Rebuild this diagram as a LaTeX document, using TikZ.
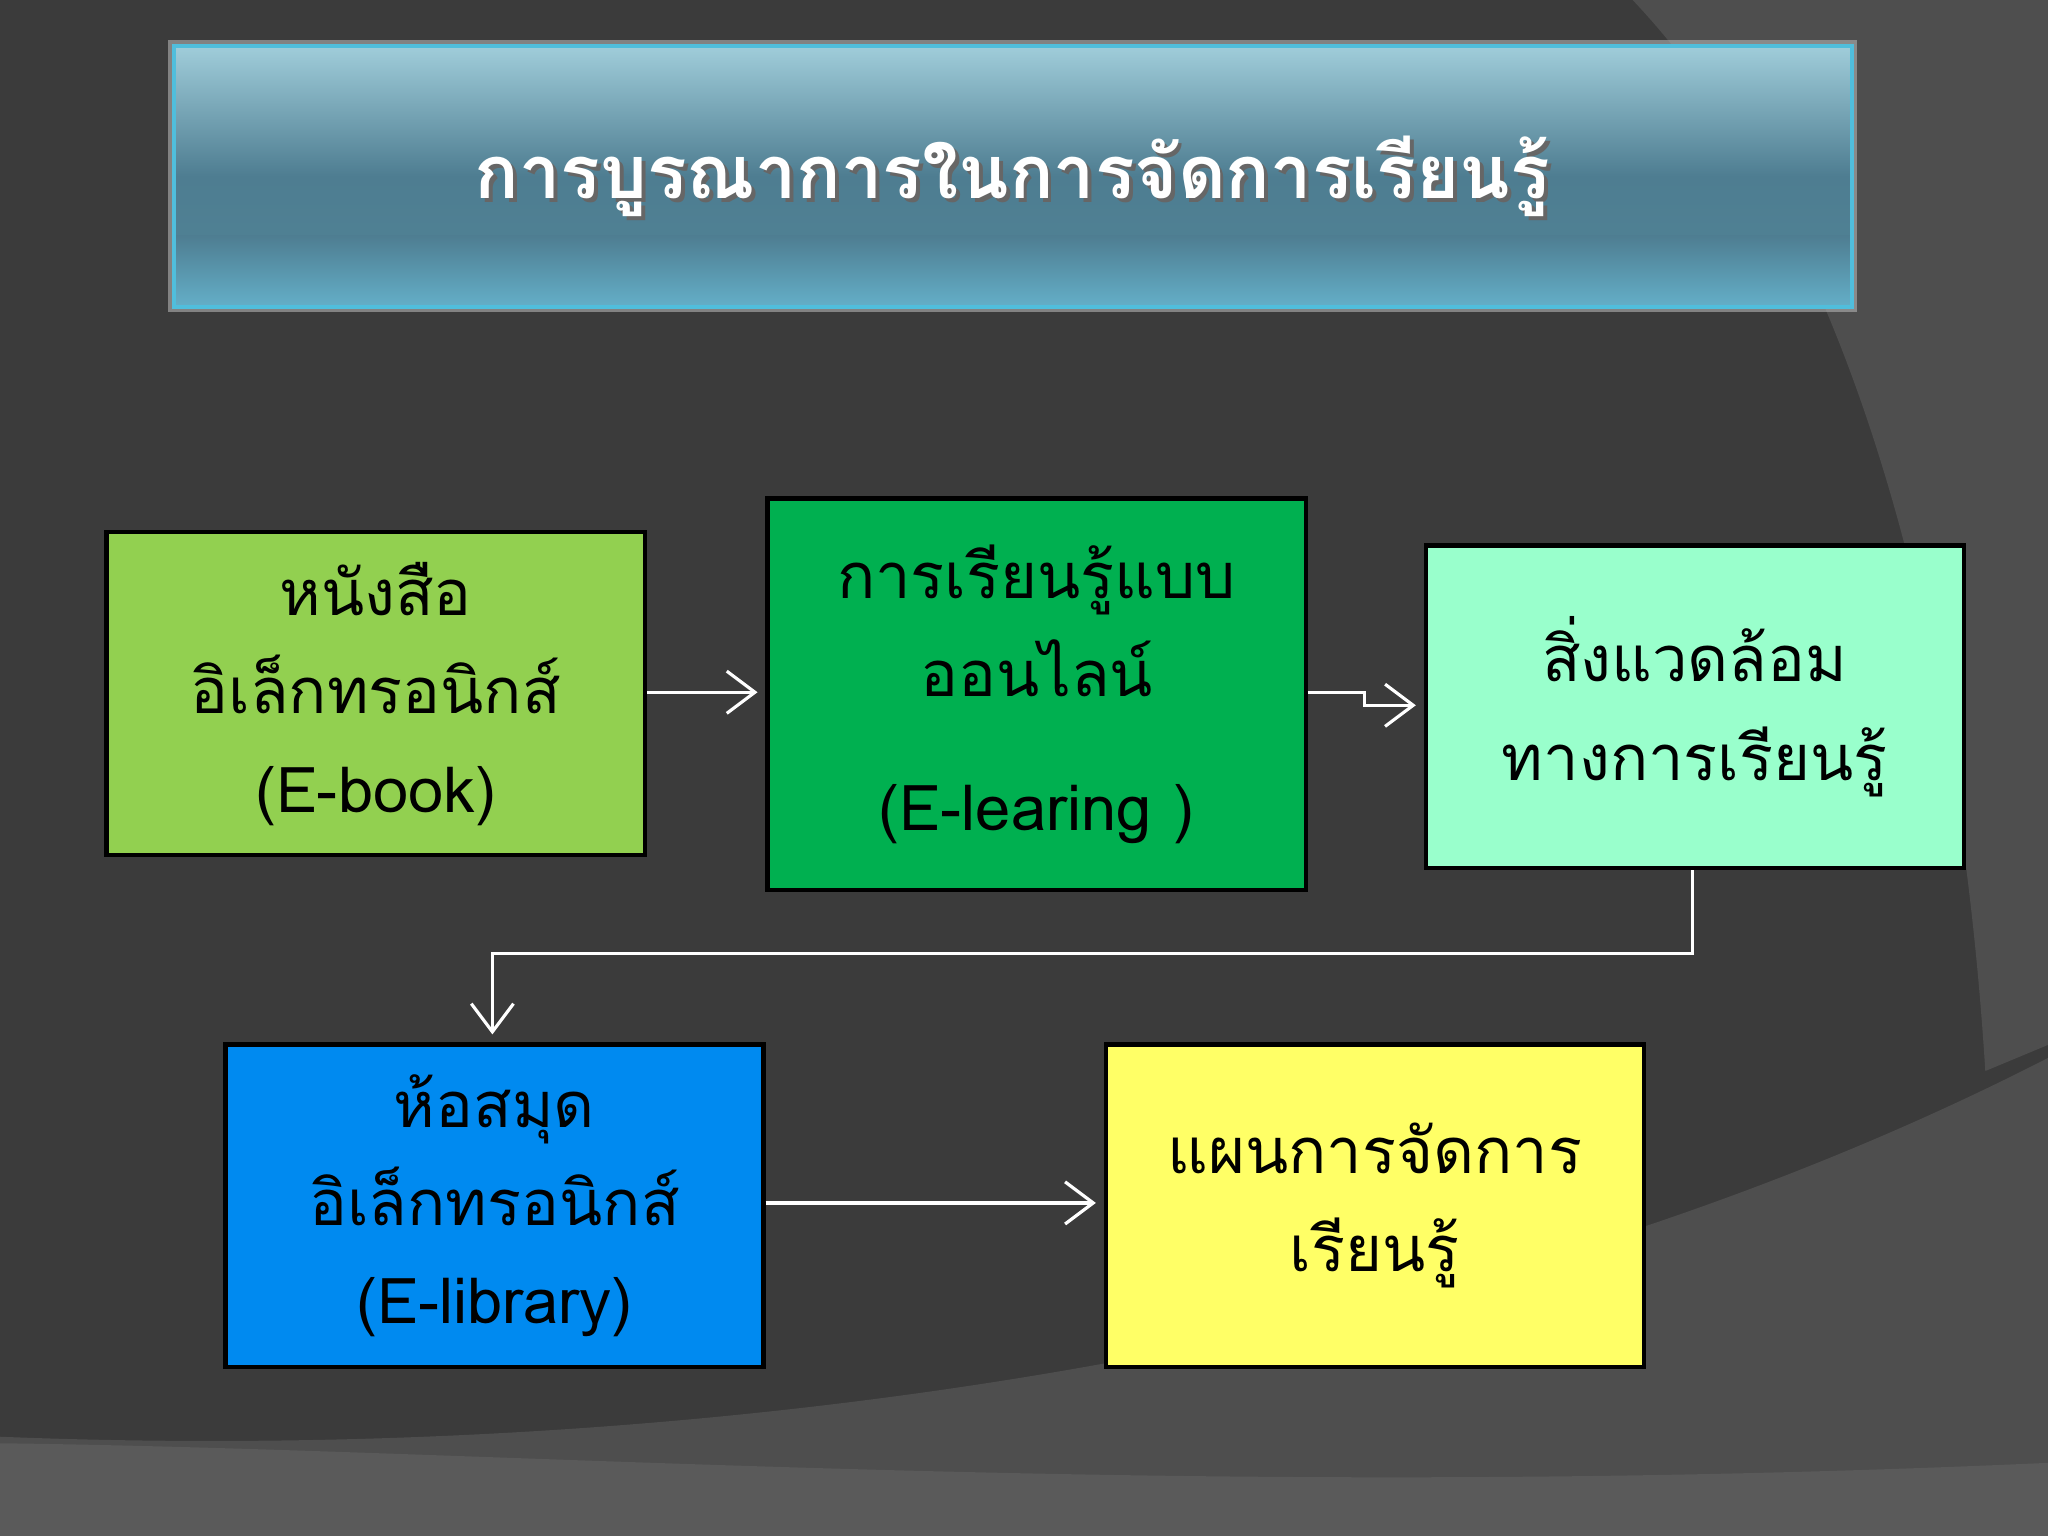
\documentclass[tikz,border=0pt]{standalone}
\usepackage{fontspec}
\newfontfamily\thaifont[Script=Thai]{Loma}
\usetikzlibrary{arrows.meta}
\definecolor{bg}{HTML}{3B3B3B}
\definecolor{bgl}{HTML}{4E4E4E}
\definecolor{bgb}{HTML}{5A5A5A}
\begin{document}
\begin{tikzpicture}[x=0.01306cm,y=-0.01306cm,
  box/.style={draw=black,line width=1.2pt,anchor=north west,inner sep=0pt,align=center,
    font=\thaifont\fontsize{18}{28}\selectfont,text=black},
  conn/.style={draw=white,line width=0.9pt,-{Straight Barb[length=8pt,width=12pt]}}]
\useasboundingbox (0,0) rectangle (1568,1176);
\fill[bg] (0,0) rectangle (1568,1176);
\fill[bgl] (1250,0) .. controls (1420,180) and (1500,500) .. (1520,820) -- (1568,800) -- (1568,0) -- cycle;
\fill[bgl] (0,1176) -- (0,1100) .. controls (500,1120) and (1100,1050) .. (1568,810) -- (1568,1176) -- cycle;
\fill[bgb] (0,1176) -- (0,1105) .. controls (400,1110) and (900,1150) .. (1568,1120) -- (1568,1176) -- cycle;
% title
\fill[gray!60,opacity=0.6] (129,31) rectangle (1422,239);
\shade[top color={rgb,255:red,160;green,205;blue,218},bottom color={rgb,255:red,80;green,132;blue,150},middle color={rgb,255:red,78;green,125;blue,145}] (133,35) rectangle (1418,235);
\shade[top color={rgb,255:red,78;green,125;blue,145},bottom color={rgb,255:red,100;green,175;blue,200}] (133,180) rectangle (1418,235);
\draw[color={rgb,255:red,80;green,190;blue,220},line width=1.2pt] (133,35) rectangle (1418,235);
\node[text=black!60,font=\thaifont\bfseries\fontsize{21}{24}\selectfont] at (778,138) {การบูรณาการในการจัดการเรียนรู้};
\node (title) [text=white,font=\thaifont\bfseries\fontsize{21}{24}\selectfont] at (775,135) {การบูรณาการในการจัดการเรียนรู้};
% boxes
\node (b1) [box,fill={rgb,255:red,146;green,208;blue,80},minimum width=412*0.01306cm,minimum height=247*0.01306cm] at (80,406) {หนังสือ\\อิเล็กทรอนิกส์\\(E-book)};
\node (b2) [box,fill={rgb,255:red,0;green,176;blue,80},minimum width=412*0.01306cm,minimum height=300*0.01306cm] at (586,380) {การเรียนรู้แบบ\\ออนไลน์\\[10pt](E-learing )};
\node (b3) [box,fill={rgb,255:red,153;green,255;blue,204},minimum width=412*0.01306cm,minimum height=247*0.01306cm] at (1090,416) {สิ่งแวดล้อม\\ทางการเรียนรู้};
\node (b4) [box,fill={rgb,255:red,0;green,138;blue,240},minimum width=412*0.01306cm,minimum height=247*0.01306cm] at (171,798) {ห้อสมุด\\อิเล็กทรอนิกส์\\(E-library)};
\node (b5) [box,fill={rgb,255:red,255;green,255;blue,102},minimum width=412*0.01306cm,minimum height=247*0.01306cm] at (845,798) {แผนการจัดการ\\เรียนรู้};
\coordinate (c1) at (1045,530);
\coordinate (c2) at (1045,540);
\coordinate (c3) at (1296,730);
\coordinate (c4) at (377,730);
\draw[conn] (b1.east |- 0,530) -- ([xshift=-6*0.01306cm]b2.west |- 0,530);
\draw[conn] (b2.east |- c1) -- (c1) -- (c2) -- ([xshift=-6*0.01306cm]b3.west |- c2);
\draw[conn] (b3.south -| c3) -- (c3) -- (c4) -- ([yshift=6*0.01306cm]b4.north -| c4);
\draw[conn] (b4.east |- 0,921) -- ([xshift=-6*0.01306cm]b5.west |- 0,921);
\end{tikzpicture}
\end{document}
